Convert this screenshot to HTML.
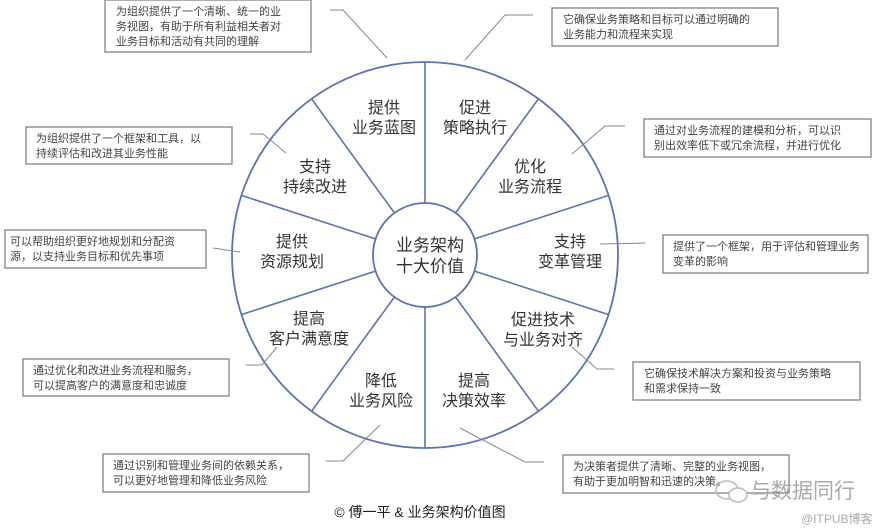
<!DOCTYPE html>
<html><head><meta charset="utf-8"><style>
html,body{margin:0;padding:0;background:#fff;}
svg{display:block;}
text{font-family:"Liberation Sans","Noto Sans CJK SC",sans-serif;}
.b{fill:#fff;stroke:#777;stroke-width:1.2;}
.bt{font-size:11px;fill:#444;}
.l{stroke:#888;stroke-width:1;fill:none;}
.s{font-size:16px;fill:#333;text-anchor:middle;}
.sp{stroke:#5a74b0;stroke-width:1.6;}
</style></head><body>
<svg width="890" height="532" viewBox="0 0 890 532" xmlns="http://www.w3.org/2000/svg">
<g id="spokes"></g>
<circle cx="425" cy="255" r="193" fill="none" stroke="#5a74b0" stroke-width="1.8"/>
<line class="sp" x1="425" y1="203" x2="425" y2="62"/>
<line class="sp" x1="455.6" y1="212.9" x2="538.4" y2="98.9"/>
<line class="sp" x1="474.5" y1="238.9" x2="608.6" y2="195.4"/>
<line class="sp" x1="474.5" y1="271.1" x2="608.6" y2="314.6"/>
<line class="sp" x1="455.6" y1="297.1" x2="538.4" y2="411.1"/>
<line class="sp" x1="425" y1="307" x2="425" y2="448"/>
<line class="sp" x1="394.4" y1="297.1" x2="311.6" y2="411.1"/>
<line class="sp" x1="375.5" y1="271.1" x2="241.4" y2="314.6"/>
<line class="sp" x1="375.5" y1="238.9" x2="241.4" y2="195.4"/>
<line class="sp" x1="394.4" y1="212.9" x2="311.6" y2="98.9"/>
<circle cx="425" cy="255" r="52" fill="#fff" stroke="#5a74b0" stroke-width="1.8"/>
<text x="430" y="251" style="font-size:17px;fill:#333;text-anchor:middle">业务架构</text>
<text x="430" y="272" style="font-size:17px;fill:#333;text-anchor:middle">十大价值</text>

<text class="s" x="384" y="113">提供</text><text class="s" x="384" y="133">业务蓝图</text>
<text class="s" x="475" y="113">促进</text><text class="s" x="475" y="133">策略执行</text>
<text class="s" x="530" y="172">优化</text><text class="s" x="530" y="192">业务流程</text>
<text class="s" x="570" y="247">支持</text><text class="s" x="570" y="267">变革管理</text>
<text class="s" x="543" y="325">促进技术</text><text class="s" x="543" y="345">与业务对齐</text>
<text class="s" x="474" y="386">提高</text><text class="s" x="474" y="406">决策效率</text>
<text class="s" x="381" y="386">降低</text><text class="s" x="381" y="406">业务风险</text>
<text class="s" x="309" y="324">提高</text><text class="s" x="309" y="344">客户满意度</text>
<text class="s" x="292" y="247">提供</text><text class="s" x="292" y="267">资源规划</text>
<text class="s" x="315" y="172">支持</text><text class="s" x="315" y="192">持续改进</text>

<!-- leaders -->
<polyline class="l" points="330,10 343,10 387,58"/>
<polyline class="l" points="533,15 505,15 465,60"/>
<polyline class="l" points="625,126 605,126 572,154"/>
<polyline class="l" points="600,244 645,243"/>
<polyline class="l" points="572,347 597,369 614,369"/>
<polyline class="l" points="460,428 525,462 544,462"/>
<polyline class="l" points="326,461 343,461 380,425"/>
<polyline class="l" points="246,365 262,365 277,347"/>
<polyline class="l" points="213,248 240,252"/>
<polyline class="l" points="250,134 263,134 286,153"/>

<!-- boxes -->
<rect class="b" x="105" y="0" width="206" height="52"/>
<text class="bt" x="116" y="15">为组织提供了一个清晰、统一的业</text>
<text class="bt" x="116" y="30">务视图，有助于所有利益相关者对</text>
<text class="bt" x="116" y="45">业务目标和活动有共同的理解</text>

<rect class="b" x="552" y="8" width="226" height="38"/>
<text class="bt" x="563" y="23">它确保业务策略和目标可以通过明确的</text>
<text class="bt" x="563" y="38">业务能力和流程来实现</text>

<rect class="b" x="644" y="119" width="227" height="38"/>
<text class="bt" x="654" y="134">通过对业务流程的建模和分析，可以识</text>
<text class="bt" x="654" y="149">别出效率低下或冗余流程，并进行优化</text>

<rect class="b" x="663" y="235" width="205" height="38"/>
<text class="bt" x="673" y="250">提供了一个框架，用于评估和管理业务</text>
<text class="bt" x="673" y="265">变革的影响</text>

<rect class="b" x="633" y="362" width="227" height="38"/>
<text class="bt" x="644" y="377">它确保技术解决方案和投资与业务策略</text>
<text class="bt" x="644" y="392">和需求保持一致</text>

<rect class="b" x="563" y="455" width="226" height="38"/>
<text class="bt" x="573" y="470">为决策者提供了清晰、完整的业务视图，</text>
<text class="bt" x="573" y="485">有助于更加明智和迅速的决策。</text>

<rect class="b" x="103" y="454" width="206" height="38"/>
<text class="bt" x="113" y="469">通过识别和管理业务间的依赖关系，</text>
<text class="bt" x="113" y="484">可以更好地管理和降低业务风险</text>

<rect class="b" x="23" y="359" width="206" height="37"/>
<text class="bt" x="33" y="374">通过优化和改进业务流程和服务，</text>
<text class="bt" x="33" y="389">可以提高客户的满意度和忠诚度</text>

<rect class="b" x="5" y="230" width="201" height="38"/>
<text class="bt" x="10" y="245">可以帮助组织更好地规划和分配资</text>
<text class="bt" x="10" y="260">源，以支持业务目标和优先事项</text>

<rect class="b" x="26" y="127" width="206" height="37"/>
<text class="bt" x="36" y="142">为组织提供了一个框架和工具，以</text>
<text class="bt" x="36" y="157">持续评估和改进其业务性能</text>

<text x="420" y="517" style="font-size:14px;fill:#222;text-anchor:middle">© 傅一平 &amp; 业务架构价值图</text>

<ellipse cx="727" cy="490" rx="11" ry="9" fill="none" stroke="#bbb" stroke-width="1.5"/>
<ellipse cx="738" cy="495" rx="9" ry="7" fill="#fff" stroke="#bbb" stroke-width="1.5"/>
<text x="750" y="498" style="font-size:21px;fill:#aaa">与数据同行</text>
<text x="801" y="523" style="font-size:12px;fill:#aaa">@ITPUB博客</text>
</svg>
</body></html>
